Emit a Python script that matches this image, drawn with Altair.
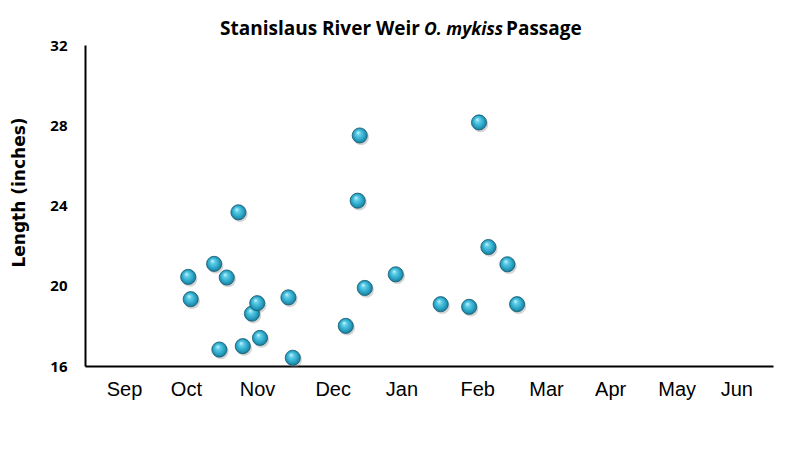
import altair as alt
import pandas as pd

# Day of season (days since 1 Sep) and fork length (inches) for each passage
days = [45.0, 46.1, 56.3, 58.6, 61.8, 66.9, 68.8, 72.8, 75.1, 76.3, 88.7, 90.6,
        113.7, 118.9, 119.8, 122.0, 135.5, 155.1, 167.5, 171.8, 175.9, 184.2, 188.4]
lengths = [20.44, 19.33, 21.09, 16.82, 20.41, 23.66, 16.99, 18.61, 19.13, 17.40, 19.42, 16.41,
           18.00, 24.24, 27.49, 19.89, 20.57, 19.08, 18.95, 28.14, 21.93, 21.07, 19.08]

# Month label positions (day of season) and names
month_days = [17, 44, 75, 108, 138, 171, 201, 229, 258, 284]
month_names = ["Sep", "Oct", "Nov", "Dec", "Jan", "Feb", "Mar", "Apr", "May", "Jun"]

y_ticks = [16, 20, 24, 28, 32]

df = pd.DataFrame({"day": days, "length": lengths})

label_expr = "[" + ",".join(f"'{m}'" for m in month_names) + "][indexof([" + \
    ",".join(str(d) for d in month_days) + "], datum.value)]"

x_enc = alt.X(
    "day:Q",
    scale=alt.Scale(domain=[0, 300], nice=False, zero=False),
    axis=alt.Axis(
        values=month_days, labelExpr=label_expr, title=None, grid=False,
        ticks=False, labelPadding=13, labelFont="Liberation Sans",
        labelFontSize=20, labelColor="black", domainColor="black",
        domainWidth=2, labelFlush=False,
    ),
)
y_enc = alt.Y(
    "length:Q",
    scale=alt.Scale(domain=[16, 32], nice=False, zero=False),
    axis=alt.Axis(
        values=y_ticks, title="Length (inches)", grid=False, ticks=False,
        labelPadding=18, labelFont="Open Sans", labelFontWeight="bold",
        labelFontSize=15, labelColor="black", domainColor="black",
        domainWidth=2, labelFlush=False,
        titleFont="DejaVu Sans", titleFontWeight="bold", titleFontSize=17,
        titleColor="black", titleX=-66, titleY=147, titleAlign="center",
        titleBaseline="middle", titleAngle=270,
    ),
)

sphere = {
    "gradient": "radial",
    "x1": 0.38, "y1": 0.3, "r1": 0.0,
    "x2": 0.5, "y2": 0.5, "r2": 0.55,
    "stops": [
        {"offset": 0.0, "color": "#dff8ff"},
        {"offset": 0.25, "color": "#62cfe9"},
        {"offset": 0.65, "color": "#2aa6c7"},
        {"offset": 1.0, "color": "#17718f"},
    ],
}

shadow = alt.Chart(df).mark_circle(
    size=240, color="#888888", opacity=0.35, xOffset=1.5, yOffset=2
).encode(x=x_enc, y=y_enc)

points = alt.Chart(df).mark_circle(
    size=230, fill=sphere, opacity=1, stroke="#145c74", strokeWidth=0.8
).encode(x=x_enc, y=y_enc)

blank = alt.Data(values=[{}])
title_font = dict(font="Open Sans", fontWeight="bold", color="black",
                  baseline="alphabetic")
title_a = alt.Chart(blank).mark_text(
    text="Stanislaus River Weir", align="right", fontSize=19, **title_font
).encode(x=alt.value(335), y=alt.value(-10))
title_b = alt.Chart(blank).mark_text(
    text="O. mykiss", align="center", fontStyle="italic", fontSize=17.5, **title_font
).encode(x=alt.value(378.5), y=alt.value(-10))
title_c = alt.Chart(blank).mark_text(
    text="Passage", align="left", fontSize=19, **title_font
).encode(x=alt.value(421), y=alt.value(-10))

chart = alt.layer(shadow, points, title_a, title_b, title_c).properties(
    width=688, height=321,
    autosize=alt.AutoSizeParams(type="none"),
    padding={"left": 77, "top": 37, "right": 11, "bottom": 70},
    background="white",
).configure_view(stroke="transparent")

chart.save("out.html", embed_options={"renderer": "svg", "actions": False})
